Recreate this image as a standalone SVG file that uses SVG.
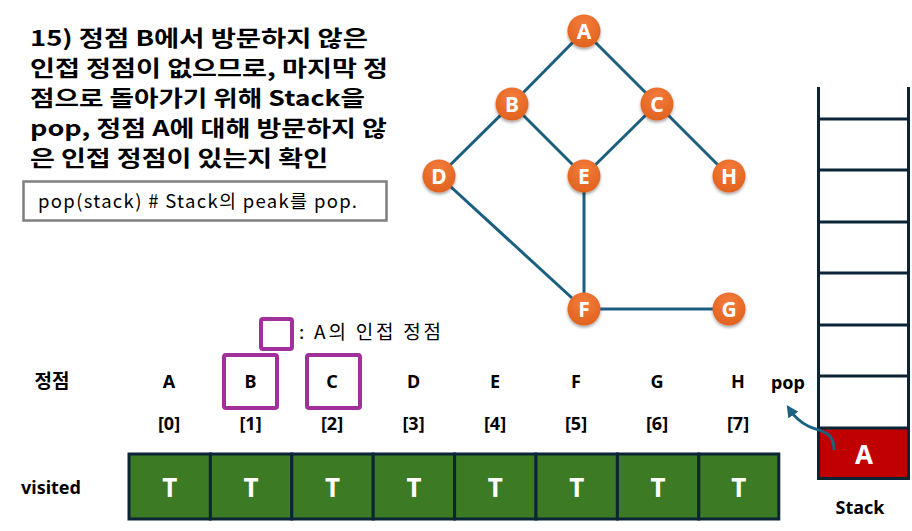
<svg xmlns="http://www.w3.org/2000/svg" width="912" height="531" viewBox="0 0 912 531">
<defs>
<radialGradient id="ng" cx="50%" cy="30%" r="70%">
<stop offset="0" stop-color="#f47c3c"/>
<stop offset="1" stop-color="#e0621e"/>
</radialGradient>
<filter id="sh" x="-30%" y="-30%" width="160%" height="170%">
<feDropShadow dx="0" dy="2" stdDeviation="1.5" flood-color="#000" flood-opacity="0.35"/>
</filter>
<marker id="ah" viewBox="0 0 10 10" refX="5" refY="5" markerWidth="4" markerHeight="4" orient="auto">
<path d="M0,0 L10,5 L0,10 z" fill="#1b6283"/>
</marker>
</defs>
<style>
.t{font-family:"Noto Sans CJK KR","Noto Sans",sans-serif;fill:#000}
.b{font-weight:bold}
.edge{stroke:#1b5f80;stroke-width:3;fill:none}
.node circle{fill:url(#ng);filter:url(#sh)}
.node text{font-family:"Noto Sans","Liberation Sans",sans-serif;font-weight:bold;font-size:21px;fill:#fff;text-anchor:middle}
.cell{fill:#3c7a23;stroke:#0b2536;stroke-width:3}
.tv{font-family:"Noto Sans","Liberation Sans",sans-serif;font-weight:bold;font-size:26px;fill:#fff;text-anchor:middle}
.lbl{font-family:"Noto Sans","Liberation Sans",sans-serif;font-weight:bold;font-size:18px;fill:#000;text-anchor:middle}
.pbox{fill:none;stroke:#a2309a;stroke-width:4}
.stk{stroke:#0b2536;stroke-width:3;fill:none}
</style>
<rect width="912" height="531" fill="#fff"/>

<g id="title" class="t b" font-size="21.5">
<text x="30" y="46" textLength="338" lengthAdjust="spacingAndGlyphs">15) 정점 B에서 방문하지 않은</text>
<text x="30" y="76" textLength="358" lengthAdjust="spacingAndGlyphs">인접 정점이 없으므로, 마지막 정</text>
<text x="30" y="106" textLength="335" lengthAdjust="spacingAndGlyphs">점으로 돌아가기 위해 Stack을</text>
<text x="30" y="136" textLength="357" lengthAdjust="spacingAndGlyphs">pop, 정점 A에 대해 방문하지 않</text>
<text x="30" y="166" textLength="298" lengthAdjust="spacingAndGlyphs">은 인접 정점이 있는지 확인</text>
</g>

<g id="code">
<rect x="23.5" y="181.5" width="363" height="39" fill="#fff" stroke="#7f7f7f" stroke-width="2.5"/>
<text x="38" y="208" class="t" font-size="18.5" textLength="319" lengthAdjust="spacing">pop(stack) # Stack의 peak를 pop.</text>
</g>

<g id="edges">
<line class="edge" x1="584" y1="31" x2="512" y2="104"/>
<line class="edge" x1="584" y1="31" x2="657" y2="104"/>
<line class="edge" x1="512" y1="104" x2="439" y2="176"/>
<line class="edge" x1="512" y1="104" x2="584" y2="176"/>
<line class="edge" x1="657" y1="104" x2="584" y2="176"/>
<line class="edge" x1="657" y1="104" x2="729" y2="176"/>
<line class="edge" x1="439" y1="176" x2="584" y2="309"/>
<line class="edge" x1="584" y1="176" x2="584" y2="309"/>
<line class="edge" x1="584" y1="309" x2="729" y2="309"/>
</g>

<g id="nA" class="node"><circle cx="584" cy="31" r="16.5"/><text x="584" y="38.5">A</text></g>
<g id="nB" class="node"><circle cx="512" cy="104" r="16.5"/><text x="512" y="111.5">B</text></g>
<g id="nC" class="node"><circle cx="657" cy="104" r="16.5"/><text x="657" y="111.5">C</text></g>
<g id="nD" class="node"><circle cx="439" cy="176" r="16.5"/><text x="439" y="183.5">D</text></g>
<g id="nE" class="node"><circle cx="584" cy="176" r="16.5"/><text x="584" y="183.5">E</text></g>
<g id="nH" class="node"><circle cx="729" cy="176" r="16.5"/><text x="729" y="183.5">H</text></g>
<g id="nF" class="node"><circle cx="584" cy="309" r="16.5"/><text x="584" y="316.5">F</text></g>
<g id="nG" class="node"><circle cx="729" cy="309" r="16.5"/><text x="729" y="316.5">G</text></g>

<g id="legend">
<rect class="pbox" x="261" y="319" width="31" height="30" rx="2" stroke-width="3.5"/>
<text x="299" y="339" class="t" font-size="19" textLength="142" lengthAdjust="spacing">: A의 인접 정점</text>
</g>

<g id="labels">
<text x="52" y="388" class="t b" font-size="19" text-anchor="middle">정점</text>
<text x="169" y="388" class="lbl">A</text>
<text x="250.5" y="388" class="lbl">B</text>
<text x="332" y="388" class="lbl">C</text>
<text x="413.5" y="388" class="lbl">D</text>
<text x="495" y="388" class="lbl">E</text>
<text x="576" y="388" class="lbl">F</text>
<text x="657" y="388" class="lbl">G</text>
<text x="738" y="388" class="lbl">H</text>
<text x="169" y="430" class="lbl">[0]</text>
<text x="250.5" y="430" class="lbl">[1]</text>
<text x="332" y="430" class="lbl">[2]</text>
<text x="413.5" y="430" class="lbl">[3]</text>
<text x="495" y="430" class="lbl">[4]</text>
<text x="576" y="430" class="lbl">[5]</text>
<text x="657" y="430" class="lbl">[6]</text>
<text x="738" y="430" class="lbl">[7]</text>
<rect class="pbox" x="224" y="355" width="53" height="53" rx="2"/>
<rect class="pbox" x="307" y="355" width="53" height="53" rx="2"/>
<text x="51" y="494" class="lbl">visited</text>
</g>

<g id="visited">
<rect class="cell" x="129" y="454" width="81.4" height="65"/>
<rect class="cell" x="210.4" y="454" width="81.4" height="65"/>
<rect class="cell" x="291.8" y="454" width="81.4" height="65"/>
<rect class="cell" x="373.2" y="454" width="81.4" height="65"/>
<rect class="cell" x="454.6" y="454" width="81.4" height="65"/>
<rect class="cell" x="536" y="454" width="81.4" height="65"/>
<rect class="cell" x="617.4" y="454" width="81.4" height="65"/>
<rect class="cell" x="698.8" y="454" width="80" height="65"/>
<text class="tv" x="169.7" y="497">T</text>
<text class="tv" x="251.1" y="497">T</text>
<text class="tv" x="332.5" y="497">T</text>
<text class="tv" x="413.9" y="497">T</text>
<text class="tv" x="495.3" y="497">T</text>
<text class="tv" x="576.7" y="497">T</text>
<text class="tv" x="658.1" y="497">T</text>
<text class="tv" x="738.8" y="497">T</text>
</g>

<g id="stack">
<rect x="819" y="428" width="89" height="50" fill="#c00000"/>
<path class="stk" d="M818.5,87 V478.5 H908.5 V87"/>
<line class="stk" x1="818.5" y1="119" x2="908.5" y2="119"/>
<line class="stk" x1="818.5" y1="170" x2="908.5" y2="170"/>
<line class="stk" x1="818.5" y1="222" x2="908.5" y2="222"/>
<line class="stk" x1="818.5" y1="273" x2="908.5" y2="273"/>
<line class="stk" x1="818.5" y1="325" x2="908.5" y2="325"/>
<line class="stk" x1="818.5" y1="376" x2="908.5" y2="376"/>
<line class="stk" x1="818.5" y1="428" x2="908.5" y2="428"/>
<text class="tv" x="864" y="464">A</text>
<text x="860" y="514" class="lbl">Stack</text>
</g>

<g id="pop">
<text x="788" y="389" class="lbl">pop</text>
<path d="M834,450 C834,430 820,432 808,426 C800,422 794,416 790,410" fill="none" stroke="#1b6283" stroke-width="3" marker-end="url(#ah)"/>
</g>
</svg>
